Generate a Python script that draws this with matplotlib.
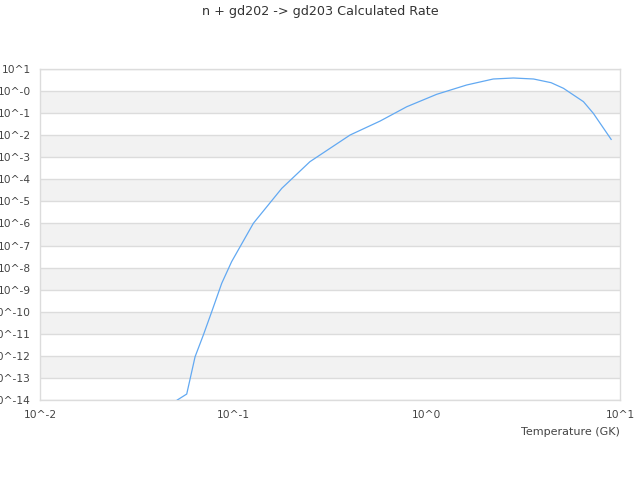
import matplotlib
matplotlib.use("Agg")
import matplotlib.pyplot as plt
import numpy as np

# Data (temperature in GK, rate)
temperature = [0.0513, 0.0574, 0.0634, 0.070, 0.0773, 0.0871, 0.098, 0.127, 0.178,
               0.249, 0.402, 0.574, 0.789, 1.127, 1.61, 2.21, 2.81, 3.57, 4.4, 5.1,
               6.47, 7.28, 9.0]
log_rate = [-14.0, -13.73, -12.04, -11.05, -10.0, -8.71, -7.73, -5.99, -4.41,
            -3.2, -1.99, -1.36, -0.71, -0.147, 0.275, 0.547, 0.592, 0.547, 0.38, 0.125,
            -0.48, -1.01, -2.19]
rate = [10.0 ** v for v in log_rate]

y_exponents = list(range(1, -15, -1))
y_labels = ["10^1", "10^-0"] + ["10^%d" % e for e in range(-1, -15, -1)]
x_exponents = [-2, -1, 0, 1]
x_labels = ["10^-2", "10^-1", "10^0", "10^1"]

title = "n + gd202 -> gd203 Calculated Rate"
xlabel = "Temperature (GK)"

fig = plt.figure(figsize=(6.4, 4.8), dpi=100)
ax = fig.add_axes([40 / 640, 1 - 400 / 480, 580 / 640, 331 / 480])
ax.set_xscale("log")
ax.set_yscale("log")
ax.set_xlim(1e-2, 1e1)
ax.set_ylim(1e-14, 1e1)

# alternating bands
for e in range(-13, 0, 2):
    ax.axhspan(10.0 ** e, 10.0 ** (e + 1), color="#f2f2f2", zorder=0, lw=0)
for e in y_exponents:
    ax.axhline(10.0 ** e, color="#dcdcdc", lw=1, zorder=1)

ax.plot(temperature, rate, color="#62a9f2", lw=0.9, zorder=3)

ax.set_yticks([10.0 ** e for e in y_exponents])
ax.set_yticklabels(y_labels)
ax.set_xticks([10.0 ** e for e in x_exponents])
ax.set_xticklabels(x_labels)
ax.minorticks_off()
ax.tick_params(axis="both", length=0, labelsize=7.7, colors="#444444")
ax.tick_params(axis="y", pad=6.5)
ax.tick_params(axis="x", pad=7)

for s in ["left", "right", "bottom", "top"]:
    ax.spines[s].set_color("#dcdcdc")
    ax.spines[s].set_linewidth(1)

fig.text(0.5, 1 - 12 / 480, title, ha="center", va="center", fontsize=9.2, color="#333333")
fig.text(620 / 640, 1 - 432 / 480, xlabel, ha="right", va="center", fontsize=8, color="#444444")

fig.savefig("out.png", dpi=100)
